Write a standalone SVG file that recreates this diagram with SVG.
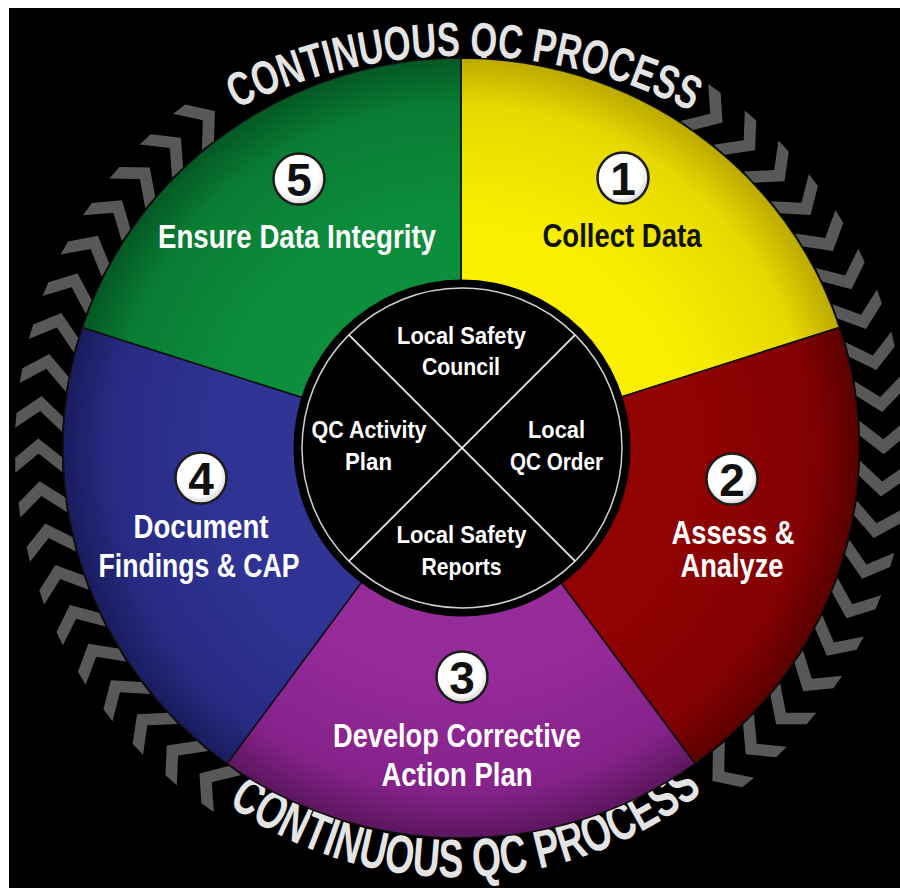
<svg xmlns="http://www.w3.org/2000/svg" width="900" height="888" viewBox="0 0 900 888">
  <defs>
    <!-- per-slice dome shading: flat colour inside, darker towards the rim -->
    <radialGradient id="gYellow" gradientUnits="userSpaceOnUse" cx="0" cy="0" r="390">
      <stop offset="0" stop-color="#fdf400"/>
      <stop offset="0.6" stop-color="#f8ee00"/>
      <stop offset="0.88" stop-color="#e6d800"/>
      <stop offset="1" stop-color="#bba900"/>
    </radialGradient>
    <radialGradient id="gRed" gradientUnits="userSpaceOnUse" cx="0" cy="0" r="390">
      <stop offset="0" stop-color="#950305"/>
      <stop offset="0.6" stop-color="#900203"/>
      <stop offset="0.88" stop-color="#820102"/>
      <stop offset="1" stop-color="#5c0000"/>
    </radialGradient>
    <radialGradient id="gPurple" gradientUnits="userSpaceOnUse" cx="0" cy="0" r="390">
      <stop offset="0" stop-color="#982d9c"/>
      <stop offset="0.6" stop-color="#952a99"/>
      <stop offset="0.88" stop-color="#85228a"/>
      <stop offset="1" stop-color="#5c165f"/>
    </radialGradient>
    <radialGradient id="gBlue" gradientUnits="userSpaceOnUse" cx="0" cy="0" r="390">
      <stop offset="0" stop-color="#323697"/>
      <stop offset="0.6" stop-color="#2f3394"/>
      <stop offset="0.88" stop-color="#282b84"/>
      <stop offset="1" stop-color="#1a1c5e"/>
    </radialGradient>
    <radialGradient id="gGreen" gradientUnits="userSpaceOnUse" cx="0" cy="0" r="390">
      <stop offset="0" stop-color="#0e923f"/>
      <stop offset="0.6" stop-color="#0c8d3c"/>
      <stop offset="0.88" stop-color="#097c34"/>
      <stop offset="1" stop-color="#055824"/>
    </radialGradient>
    <radialGradient id="badgeFill" cx="0.45" cy="0.42" r="0.6">
      <stop offset="0.72" stop-color="#ffffff"/>
      <stop offset="1" stop-color="#cfcfcf"/>
    </radialGradient>

    <!-- one chevron of the surrounding cycle ring, pointing clockwise (+y at angle 0) -->
    <polygon id="chev" points="391,-3 414,16 437,-3 437,-18 414,1 391,-18"/>

    <!-- baselines for the ring captions -->
    <path id="arcTop" d="M24.5 308 A504 504 0 0 1 897.5 308"/>
    <path id="arcBottom" d="M83.9 615.8 A397 397 0 0 0 830.1 615.8"/>
  </defs>

  <style>
    .lbl { font-family: "Liberation Sans Narrow", "Liberation Sans", Arial, sans-serif; font-weight: bold; text-anchor: middle; }
    .main { font-size: 33px; fill: #ffffff; }
    .dark { fill: #111111; }
    .hub { font-size: 24px; fill: #ffffff; }
    .num { font-size: 46px; fill: #111111; }
    .badge { fill: url(#badgeFill); stroke: #1c1c1c; stroke-width: 2.5; }
    .slice { stroke: #101010; stroke-width: 1.5; stroke-linejoin: round; }
    .ring { fill: #e4e4e4; stroke: #000000; stroke-width: 4; paint-order: stroke; stroke-linejoin: round; }
    .chevs use { fill: #585858; }
  </style>

  <!-- page -->
  <rect x="0" y="0" width="900" height="888" fill="#ffffff"/>
  <rect x="9" y="8" width="891" height="880" fill="#000000"/>

  <!-- chevron ring showing the clockwise cycle -->
  <g id="connectors" class="chevs" transform="translate(461,448) scale(1.0205,1)">
    <use href="#chev" transform="rotate(-54)"/>
    <use href="#chev" transform="rotate(-48.15)"/>
    <use href="#chev" transform="rotate(-42.3)"/>
    <use href="#chev" transform="rotate(-36.45)"/>
    <use href="#chev" transform="rotate(-30.6)"/>
    <use href="#chev" transform="rotate(-24.75)"/>
    <use href="#chev" transform="rotate(-18.9)"/>
    <use href="#chev" transform="rotate(-13.05)"/>
    <use href="#chev" transform="rotate(-7.2)"/>
    <use href="#chev" transform="rotate(-1.35)"/>
    <use href="#chev" transform="rotate(4.5)"/>
    <use href="#chev" transform="rotate(10.35)"/>
    <use href="#chev" transform="rotate(16.2)"/>
    <use href="#chev" transform="rotate(22.05)"/>
    <use href="#chev" transform="rotate(27.9)"/>
    <use href="#chev" transform="rotate(33.75)"/>
    <use href="#chev" transform="rotate(39.6)"/>
    <use href="#chev" transform="rotate(45.45)"/>
    <use href="#chev" transform="rotate(51.3)"/>
    <use href="#chev" transform="rotate(126)"/>
    <use href="#chev" transform="rotate(131.9)"/>
    <use href="#chev" transform="rotate(137.8)"/>
    <use href="#chev" transform="rotate(143.7)"/>
    <use href="#chev" transform="rotate(149.6)"/>
    <use href="#chev" transform="rotate(155.5)"/>
    <use href="#chev" transform="rotate(161.4)"/>
    <use href="#chev" transform="rotate(167.3)"/>
    <use href="#chev" transform="rotate(173.2)"/>
    <use href="#chev" transform="rotate(179.1)"/>
    <use href="#chev" transform="rotate(185)"/>
    <use href="#chev" transform="rotate(190.9)"/>
    <use href="#chev" transform="rotate(196.8)"/>
    <use href="#chev" transform="rotate(202.7)"/>
    <use href="#chev" transform="rotate(208.6)"/>
    <use href="#chev" transform="rotate(214.5)"/>
    <use href="#chev" transform="rotate(220.4)"/>
    <use href="#chev" transform="rotate(226.3)"/>
    <use href="#chev" transform="rotate(232.2)"/>
  </g>

  <!-- ring captions -->
  <g id="ring-caption-top">
    <text class="lbl ring" font-size="48"><textPath href="#arcTop" startOffset="50.3%" textLength="472" lengthAdjust="spacingAndGlyphs">CONTINUOUS QC PROCESS</textPath></text>
  </g>
  <g id="ring-caption-bottom">
    <text class="lbl ring" font-size="54"><textPath href="#arcBottom" startOffset="51.07%" textLength="510" lengthAdjust="spacingAndGlyphs">CONTINUOUS QC PROCESS</textPath></text>
  </g>

  <!-- step 1 -->
  <g id="step1-collect-data">
    <path class="slice" fill="url(#gYellow)" transform="translate(461,448) scale(1.0205,1)" d="M0 0 L0 -390 A390 390 0 0 1 370.91 -120.52 Z"/>
    <circle class="badge" cx="623" cy="178" r="25.5"/>
    <text class="lbl num" x="623" y="194.5">1</text>
    <text class="lbl main dark" x="622" y="247" textLength="159" lengthAdjust="spacingAndGlyphs">Collect Data</text>
  </g>

  <!-- step 2 -->
  <g id="step2-assess-analyze">
    <path class="slice" fill="url(#gRed)" transform="translate(461,448) scale(1.0205,1)" d="M0 0 L370.91 -120.52 A390 390 0 0 1 229.24 315.52 Z"/>
    <circle class="badge" cx="732" cy="479" r="25.5"/>
    <text class="lbl num" x="732" y="495.5">2</text>
    <text class="lbl main" x="733" y="544" textLength="123" lengthAdjust="spacingAndGlyphs">Assess &amp;</text>
    <text class="lbl main" x="732" y="577" textLength="103" lengthAdjust="spacingAndGlyphs">Analyze</text>
  </g>

  <!-- step 3 -->
  <g id="step3-corrective-action">
    <path class="slice" fill="url(#gPurple)" transform="translate(461,448) scale(1.0205,1)" d="M0 0 L229.24 315.52 A390 390 0 0 1 -229.24 315.52 Z"/>
    <circle class="badge" cx="462" cy="677" r="25.5"/>
    <text class="lbl num" x="462" y="693.5">3</text>
    <text class="lbl main" x="457" y="747" textLength="248" lengthAdjust="spacingAndGlyphs">Develop Corrective</text>
    <text class="lbl main" x="457" y="786" textLength="151" lengthAdjust="spacingAndGlyphs">Action Plan</text>
  </g>

  <!-- step 4 -->
  <g id="step4-document-findings">
    <path class="slice" fill="url(#gBlue)" transform="translate(461,448) scale(1.0205,1)" d="M0 0 L-229.24 315.52 A390 390 0 0 1 -370.91 -120.52 Z"/>
    <circle class="badge" cx="201" cy="478" r="25.5"/>
    <text class="lbl num" x="201" y="494.5">4</text>
    <text class="lbl main" x="201" y="538" textLength="135" lengthAdjust="spacingAndGlyphs">Document</text>
    <text class="lbl main" x="199" y="577" textLength="201" lengthAdjust="spacingAndGlyphs">Findings &amp; CAP</text>
  </g>

  <!-- step 5 -->
  <g id="step5-data-integrity">
    <path class="slice" fill="url(#gGreen)" transform="translate(461,448) scale(1.0205,1)" d="M0 0 L-370.91 -120.52 A390 390 0 0 1 0 -390 Z"/>
    <circle class="badge" cx="299" cy="179" r="25.5"/>
    <text class="lbl num" x="299" y="195.5">5</text>
    <text class="lbl main" x="297" y="248" textLength="278" lengthAdjust="spacingAndGlyphs">Ensure Data Integrity</text>
  </g>

  <!-- central hub with the four governing documents -->
  <g id="hub">
    <circle cx="462" cy="448" r="168.5" fill="#000000"/>
    <circle cx="462" cy="448" r="160" fill="none" stroke="#cfcfcf" stroke-width="1.5"/>
    <line x1="348.9" y1="334.9" x2="575.1" y2="561.1" stroke="#e8e8e8" stroke-width="1.8"/>
    <line x1="575.1" y1="334.9" x2="348.9" y2="561.1" stroke="#e8e8e8" stroke-width="1.8"/>
  </g>
  <g id="hub-local-safety-council">
    <text class="lbl hub" x="461.5" y="344" textLength="129" lengthAdjust="spacingAndGlyphs">Local Safety</text>
    <text class="lbl hub" x="461" y="375" textLength="78" lengthAdjust="spacingAndGlyphs">Council</text>
  </g>
  <g id="hub-local-qc-order">
    <text class="lbl hub" x="556.5" y="438" textLength="57" lengthAdjust="spacingAndGlyphs">Local</text>
    <text class="lbl hub" x="556.5" y="470" textLength="93" lengthAdjust="spacingAndGlyphs">QC Order</text>
  </g>
  <g id="hub-local-safety-reports">
    <text class="lbl hub" x="461.5" y="543" textLength="130" lengthAdjust="spacingAndGlyphs">Local Safety</text>
    <text class="lbl hub" x="461.5" y="575" textLength="80" lengthAdjust="spacingAndGlyphs">Reports</text>
  </g>
  <g id="hub-qc-activity-plan">
    <text class="lbl hub" x="369" y="438" textLength="115" lengthAdjust="spacingAndGlyphs">QC Activity</text>
    <text class="lbl hub" x="368.5" y="470" textLength="47" lengthAdjust="spacingAndGlyphs">Plan</text>
  </g>
</svg>
